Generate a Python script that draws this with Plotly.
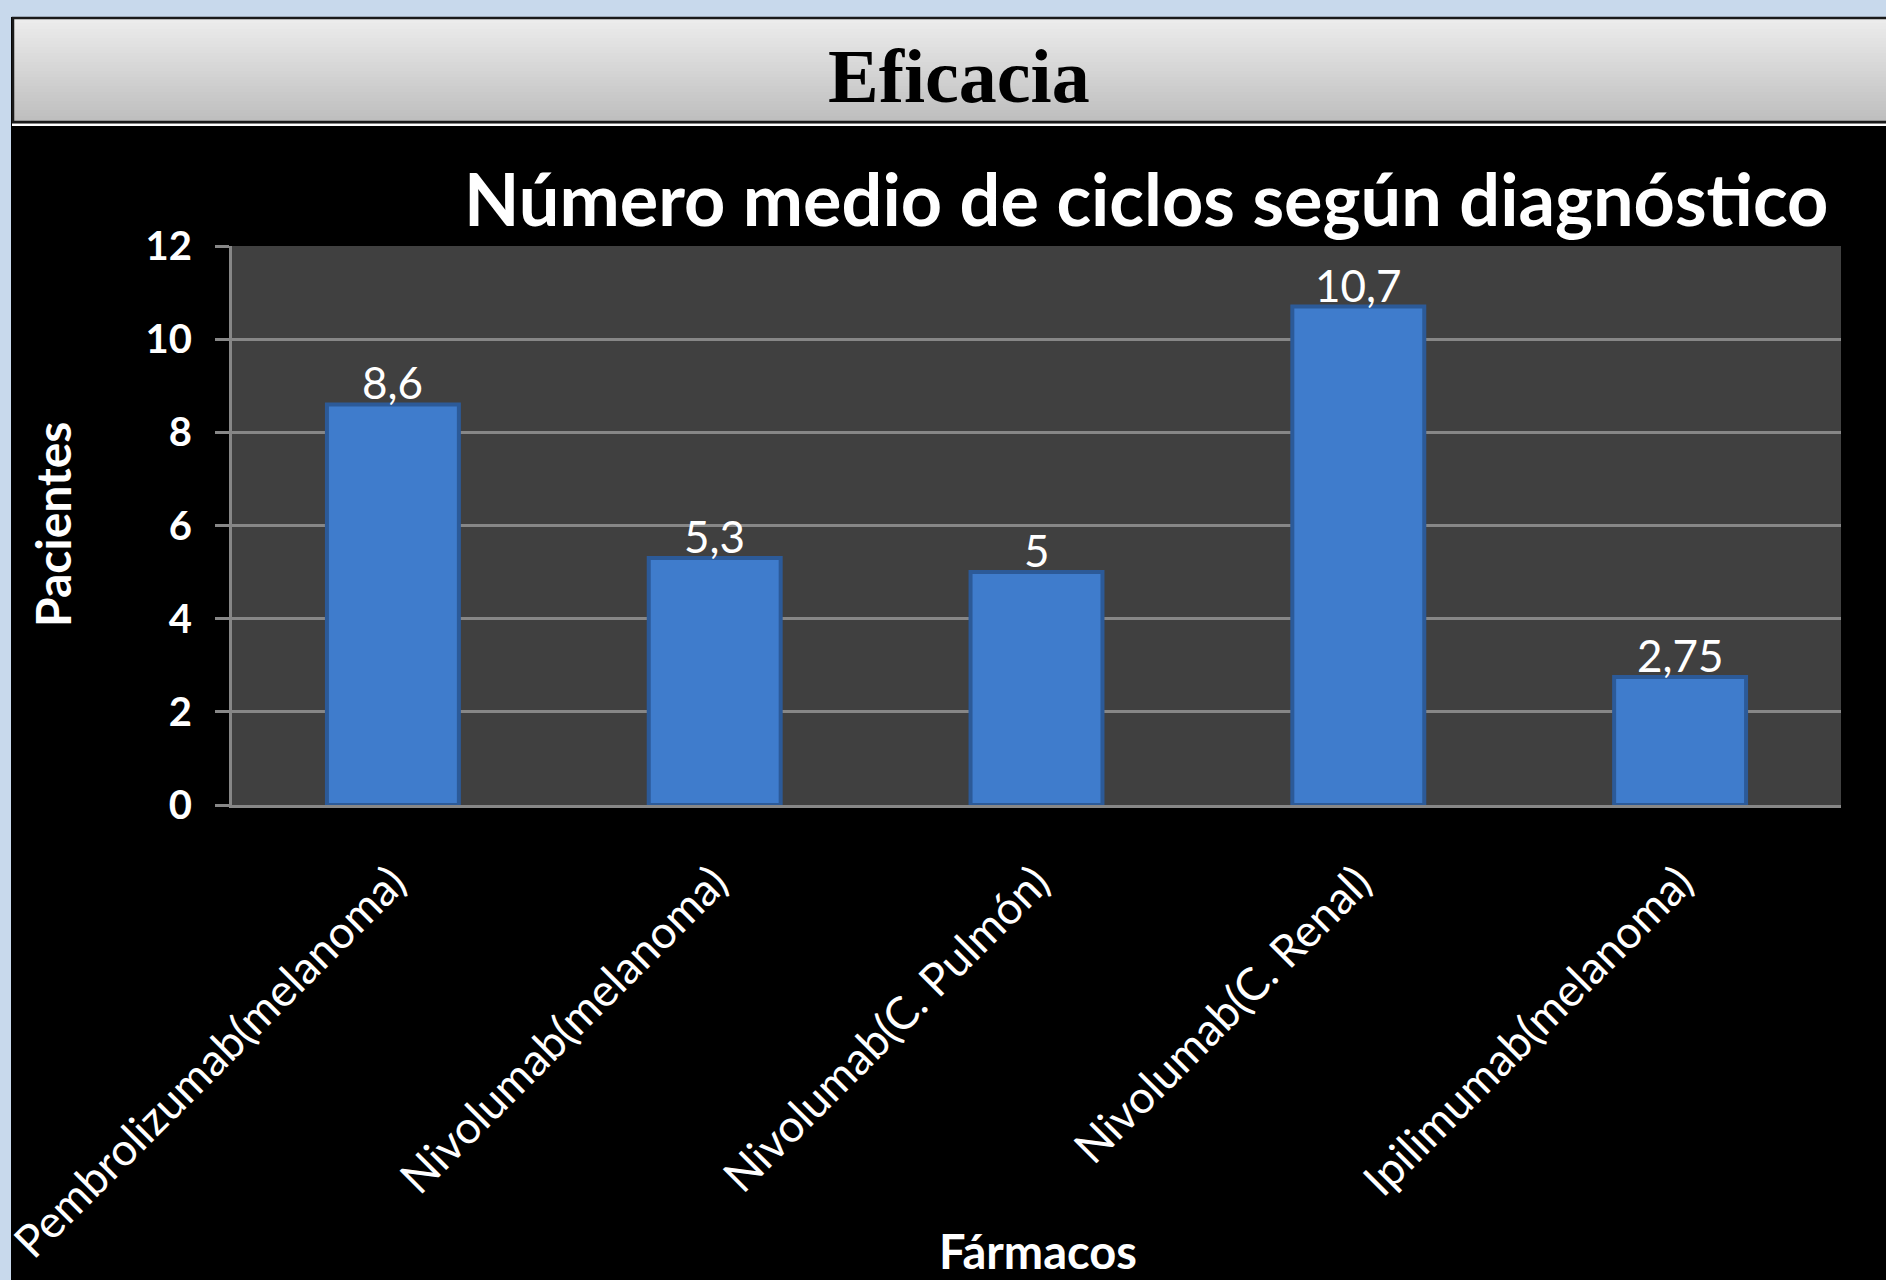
import plotly.graph_objects as go

# ---- data ----
categories = [
    "Pembrolizumab(melanoma)",
    "Nivolumab(melanoma)",
    "Nivolumab(C. Pulmón)",
    "Nivolumab(C. Renal)",
    "Ipilimumab(melanoma)",
]
values = [8.6, 5.3, 5, 10.7, 2.75]
y_ticks = [0, 2, 4, 6, 8, 10, 12]

header_text = "Eficacia"
chart_title = "Número medio de ciclos según diagnóstico"
y_title = "Pacientes"
x_title = "Fármacos"

W, H = 1886, 1280


def px_x(v):
    return v / W


def px_y(v):
    return 1 - v / H


labels = [f"{v:g}".replace(".", ",") for v in values]

fig = go.Figure()
fig.add_trace(
    go.Bar(
        x=categories,
        y=values,
        marker=dict(color="#3F7CCC", line=dict(color="#2C5A98", width=4)),
        width=0.41,
        hoverinfo="skip",
    )
)

shapes = []
# light blue surround
shapes.append(dict(type="rect", xref="paper", yref="paper", x0=0, x1=1.01,
                   y0=px_y(17), y1=1.01, fillcolor="#C8D9EC", line_width=0, layer="below"))
# header gradient
top_c = (237, 237, 237)
bot_c = (190, 190, 190)
y_start, y_end = 17, 122
n = 35
for i in range(n):
    t = i / (n - 1)
    c = tuple(int(round(top_c[k] + (bot_c[k] - top_c[k]) * t)) for k in range(3))
    a = y_start + (y_end - y_start) * i / n
    b = y_start + (y_end - y_start) * (i + 1) / n
    shapes.append(dict(type="rect", xref="paper", yref="paper", x0=px_x(12), x1=1.01,
                       y0=px_y(b + 0.5), y1=px_y(a), fillcolor=f"rgb{c}",
                       line_width=0, layer="below"))
# header border
shapes.append(dict(type="rect", xref="paper", yref="paper", x0=px_x(13), x1=1.01,
                   y0=px_y(122), y1=px_y(18), fillcolor="rgba(0,0,0,0)",
                   line=dict(color="#1A1A1A", width=2.5), layer="below"))
# white separator
shapes.append(dict(type="rect", xref="paper", yref="paper", x0=px_x(12), x1=1.01,
                   y0=px_y(126), y1=px_y(123.5), fillcolor="white", line_width=0, layer="below"))
# left light blue strip (above, clips first label)
shapes.append(dict(type="rect", xref="paper", yref="paper", x0=-0.01, x1=px_x(11),
                   y0=-0.01, y1=1.01, fillcolor="#C8D9EC", line_width=0, layer="above"))

annotations = [
    dict(text=header_text, x=px_x(959), y=px_y(76), xref="paper", yref="paper",
         showarrow=False, xanchor="center", yanchor="middle",
         font=dict(family="Liberation Serif", size=76, color="black", weight="bold")),
    dict(text=chart_title, x=px_x(1146), y=px_y(198), xref="paper", yref="paper",
         showarrow=False, xanchor="center", yanchor="middle",
         font=dict(family="Lato", size=72, color="white", weight="bold")),
    dict(text=y_title, x=px_x(52), y=px_y(525), xref="paper", yref="paper",
         showarrow=False, xanchor="center", yanchor="middle", textangle=-90,
         font=dict(family="Lato", size=48, color="white", weight="bold")),
    dict(text=x_title, x=px_x(1038), y=px_y(1251), xref="paper", yref="paper",
         showarrow=False, xanchor="center", yanchor="middle",
         font=dict(family="Lato", size=47, color="white", weight="bold")),
]
# data labels, placed via the data scales
for cat, val, lab in zip(categories, values, labels):
    annotations.append(dict(text=lab, x=cat, y=val, xref="x", yref="y",
                            showarrow=False, xanchor="center", yanchor="bottom",
                            yshift=-6,
                            font=dict(family="Lato", size=44, color="white")))

fig.update_layout(
    template="none",
    width=W,
    height=H,
    margin=dict(l=0, r=0, t=0, b=0, pad=0),
    paper_bgcolor="#000000",
    plot_bgcolor="#404040",
    showlegend=False,
    separators=",.",
    shapes=shapes,
    annotations=annotations,
    xaxis=dict(
        domain=[px_x(232), px_x(1841)],
        range=[-0.5, 4.5],
        showgrid=False,
        zeroline=False,
        showline=True,
        linecolor="#878787",
        linewidth=3,
        ticks="",
        tickangle=-45,
        ticklabelstandoff=30,
        tickfont=dict(family="Lato", size=45, color="white"),
        automargin=False,
    ),
    yaxis=dict(
        domain=[px_y(805), px_y(246)],
        range=[0, 12],
        tickvals=y_ticks,
        showgrid=True,
        gridcolor="#878787",
        gridwidth=3,
        zeroline=False,
        showline=True,
        linecolor="#878787",
        linewidth=3,
        ticks="outside",
        ticklen=14,
        tickwidth=3,
        tickcolor="#878787",
        ticklabelstandoff=15,
        tickfont=dict(family="Lato", size=40, color="white", weight="bold"),
        automargin=False,
    ),
)

fig.write_html(
    "out.html",
    config={"displayModeBar": False},
    post_script="document.body.style.margin='0';document.body.style.padding='0';"
                "document.body.style.overflow='hidden';document.body.style.background='#000';",
)
